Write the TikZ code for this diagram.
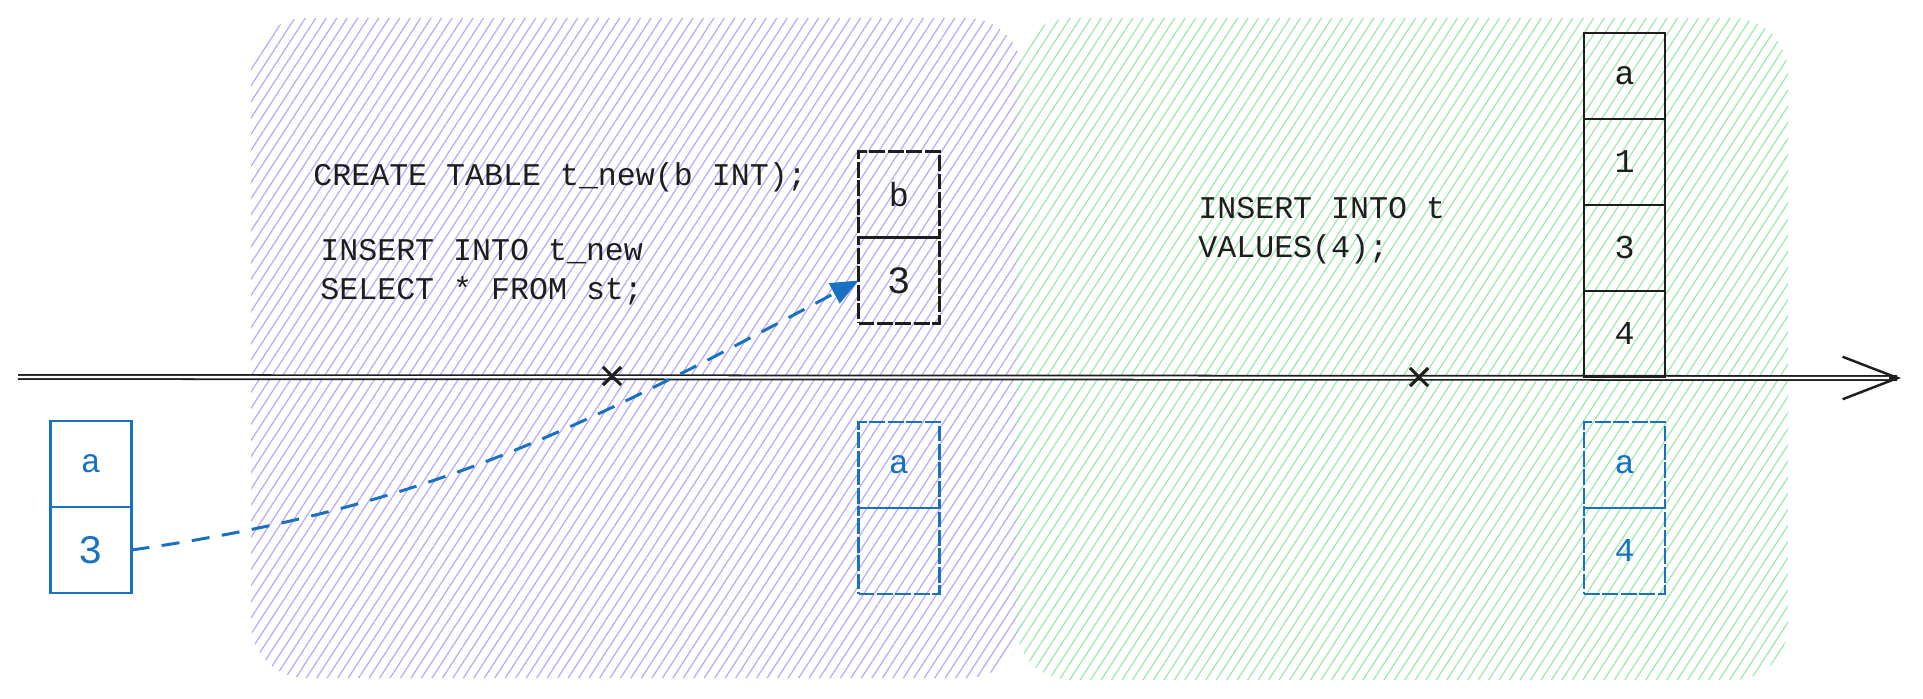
\documentclass[tikz,border=0pt]{standalone}
\usepackage{fontspec}
\setmainfont{Liberation Mono}
\usepackage{tikz}
\usetikzlibrary{calc,positioning,arrows.meta,patterns.meta,shapes.misc}

\definecolor{ink}{HTML}{1E1E1E}
\definecolor{stblue}{HTML}{1971C2}
\definecolor{hatchviolet}{HTML}{BBA8FA}
\definecolor{hatchgreen}{HTML}{9FE8AB}

\tikzset{
	zone/.style={draw=none, rounded corners=1.1cm, pattern={Lines[angle=57, distance=5pt, line width=0.7pt]}},
	cell/.style={draw, outer sep=0pt, inner sep=0pt, minimum width=1.62cm, minimum height=1.72cm, font=\fontsize{19}{22}\selectfont},
	solidcell/.style={cell, ink, line width=1.3pt},
	dashcell/.style={cell, ink, line width=1.2pt, dash pattern=on 9pt off 1.5pt},
	stcell/.style={cell, stblue, line width=1.3pt},
	stdash/.style={cell, stblue, line width=1.2pt, dash pattern=on 9pt off 1.5pt},
	code/.style={inner sep=0pt, anchor=west, align=left, text=ink, font=\fontsize{18}{22}\selectfont},
	tick/.style={draw=ink, cross out, line width=1.8pt, minimum size=0.3cm, inner sep=0pt}
}

\begin{document}
\begin{tikzpicture}[x=0.02cm, y=-0.02cm]
	\useasboundingbox (0,0) rectangle (1923,698);

	% Hatched phases
	\draw[zone, pattern color=hatchviolet] (251,18) rectangle (1022,678);
	\draw[zone, pattern color=hatchgreen] (1016,18) rectangle (1788,680);

	% Time axis
	\coordinate (tstart) at (18,377);
	\coordinate (tend) at (1901,378);
	\draw[ink, line width=1pt, double distance=1.3pt] (tstart) -- ($(tend)+(-4,0)$);
	\draw[ink, line width=1.4pt, -{Straight Barb[length=1.1cm, width=0.85cm, line width=1.4pt]}] ($(tend)+(-12,0)$) -- (tend);
	\node[tick] (mark1) at (612,376) {};
	\node[tick] (mark2) at (1419,377) {};

	% Statements
	\node[code] (create) at (313,177) {CREATE TABLE t\_new(b INT);};
	\node[code] (inssel) at (320,272) {INSERT INTO t\_new\\SELECT * FROM st;};
	\node[code] (insval) at (1198,231) {INSERT INTO t\\VALUES(4);};

	% Table st before
	\node[stcell] (srcHead) at (91,464) {a};
	\node[stcell, below=0pt of srcHead, font=\fontsize{23}{26}\selectfont] (srcVal) {3};

	% Table t_new
	\node[dashcell] (newHead) at (899,194.5) {b};
	\node[dashcell, below=0pt of newHead, font=\fontsize{22}{25}\selectfont] (newVal) {3};

	% Table st after
	\node[stdash] (stHead) at (899,465) {a};
	\node[stdash, below=0pt of stHead] (stVal) {};

	% Table t
	\node[solidcell] (tHead) at (1624.5,76) {a};
	\node[solidcell, below=0pt of tHead] (tOne) {1};
	\node[solidcell, below=0pt of tOne] (tThree) {3};
	\node[solidcell, below=0pt of tThree] (tFour) {4};

	% Table st at the end
	\node[stdash] (endHead) at (1624.5,465) {a};
	\node[stdash, below=0pt of endHead] (endVal) {4};

	% Copy of the row
	\draw[stblue, line width=1.7pt, dash pattern=on 0.36cm off 0.25cm, -{Triangle[length=0.55cm, width=0.45cm]}] (srcVal.east) to[out=8, in=208] (newVal.west);
\end{tikzpicture}
\end{document}
